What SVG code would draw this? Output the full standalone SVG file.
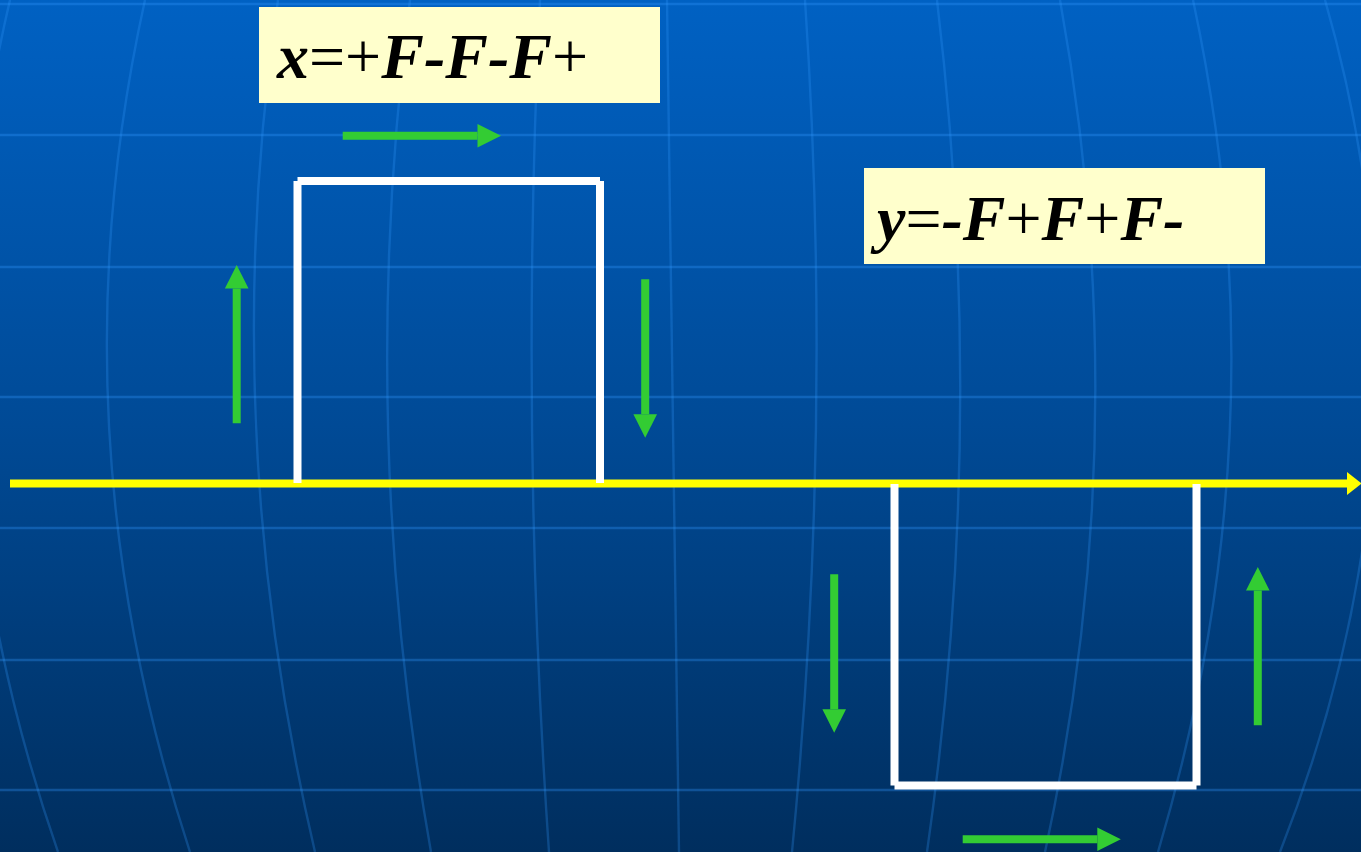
<svg xmlns="http://www.w3.org/2000/svg" width="1361" height="852" viewBox="0 0 1361 852">
  <defs>
    <linearGradient id="bg" x1="0" y1="0" x2="0" y2="1">
      <stop offset="0" stop-color="#0061C3"/>
      <stop offset="0.5" stop-color="#004A96"/>
      <stop offset="1" stop-color="#002E5E"/>
    </linearGradient>
    <marker id="gHead" markerUnits="userSpaceOnUse" markerWidth="24" markerHeight="24" refX="0" refY="11.8" orient="auto" overflow="visible">
      <path d="M0,0 L23.5,11.8 L0,23.6 Z" fill="#33CC33"/>
    </marker>
    <marker id="yHead" markerUnits="userSpaceOnUse" markerWidth="15" markerHeight="24" refX="0" refY="11.5" orient="auto" overflow="visible">
      <path d="M0,0 L14.5,11.5 L0,23 Z" fill="#FFFF00"/>
    </marker>
    <style>
      .par { stroke: #3399FF; stroke-opacity: 0.32; stroke-width: 2.6; fill: none; }
      .mer { stroke: #3399FF; stroke-opacity: 0.26; stroke-width: 2.4; fill: none; }
      .wave { stroke: #FFFFFF; stroke-width: 8; stroke-linecap: butt; fill: none; }
      .arr { stroke: #33CC33; stroke-width: 8; stroke-linecap: butt; fill: none; marker-end: url(#gHead); }
      .axis { stroke: #FFFF00; stroke-width: 8; fill: none; marker-end: url(#yHead); }
      .box { fill: #FFFFCC; }
      .eq { font-family: "Liberation Serif", "Times New Roman", serif; font-size: 64px; fill: #000000; }
      .bi { font-weight: bold; font-style: italic; }
      .rg { font-weight: normal; font-style: normal; }
    </style>
  </defs>

  <g id="background">
    <rect x="0" y="0" width="1361" height="852" fill="url(#bg)"/>
    <g id="parallels">
      <line class="par" x1="0" y1="4" x2="1361" y2="4"/>
      <line class="par" x1="0" y1="135" x2="1361" y2="135"/>
      <line class="par" x1="0" y1="267" x2="1361" y2="267"/>
      <line class="par" x1="0" y1="397" x2="1361" y2="397"/>
      <line class="par" x1="0" y1="528" x2="1361" y2="528"/>
      <line class="par" x1="0" y1="660" x2="1361" y2="660" stroke-opacity="0.18"/>
      <line class="par" x1="0" y1="790" x2="1361" y2="790" stroke-opacity="0.2"/>
    </g>
    <g id="meridians">
      <path class="mer" d="M10,0 Q-90,426 58,852"/>
      <path class="mer" d="M145,0 Q50.5,426 190,852"/>
      <path class="mer" d="M278,0 Q215.5,426 315,852"/>
      <path class="mer" d="M410,0 Q355.5,426 431,852"/>
      <path class="mer" d="M540,0 Q519.5,426 549,852"/>
      <path class="mer" d="M667,0 Q673,426 679,852"/>
      <path class="mer" d="M805,0 Q833.5,426 792,852"/>
      <path class="mer" d="M937,0 Q988,426 927,852"/>
      <path class="mer" d="M1060,0 Q1137.5,426 1045,852"/>
      <path class="mer" d="M1193,0 Q1284.5,426 1158,852"/>
      <path class="mer" d="M1325,0 Q1447.5,426 1280,852"/>
    </g>
  </g>

  <g id="axis">
    <line class="axis" x1="10" y1="483.5" x2="1347" y2="483.5"/>
  </g>

  <g id="curve-x">
    <line class="wave" x1="297.5" y1="181" x2="297.5" y2="483"/>
    <line class="wave" x1="297.5" y1="181" x2="600" y2="181"/>
    <line class="wave" x1="600" y1="181" x2="600" y2="483"/>
  </g>

  <g id="curve-y">
    <line class="wave" x1="894.5" y1="484" x2="894.5" y2="785.5"/>
    <line class="wave" x1="894.5" y1="785.5" x2="1196.5" y2="785.5"/>
    <line class="wave" x1="1196.5" y1="484" x2="1196.5" y2="785.5"/>
  </g>

  <g id="connectors">
    <line class="arr" x1="342.7" y1="135.8" x2="477.5" y2="135.8"/>
    <line class="arr" x1="236.7" y1="423.3" x2="236.7" y2="288.5"/>
    <line class="arr" x1="645.2" y1="279.3" x2="645.2" y2="414.2"/>
    <line class="arr" x1="834.2" y1="574.3" x2="834.2" y2="709.2"/>
    <line class="arr" x1="1257.8" y1="725.3" x2="1257.8" y2="590.5"/>
    <line class="arr" x1="962.7" y1="839.2" x2="1097.3" y2="839.2"/>
  </g>

  <g id="label-x">
    <rect class="box" x="259" y="7" width="401" height="96"/>
    <text class="eq" x="277" y="78"><tspan class="bi">x</tspan><tspan class="rg">=+</tspan><tspan class="bi">F-F-F</tspan><tspan class="rg">+</tspan></text>
  </g>

  <g id="label-y">
    <rect class="box" x="864" y="168" width="401" height="96"/>
    <text class="eq" x="877" y="240"><tspan class="bi">y</tspan><tspan class="rg">=</tspan><tspan class="bi">-F</tspan><tspan class="rg">+</tspan><tspan class="bi">F</tspan><tspan class="rg">+</tspan><tspan class="bi">F-</tspan></text>
  </g>
</svg>
